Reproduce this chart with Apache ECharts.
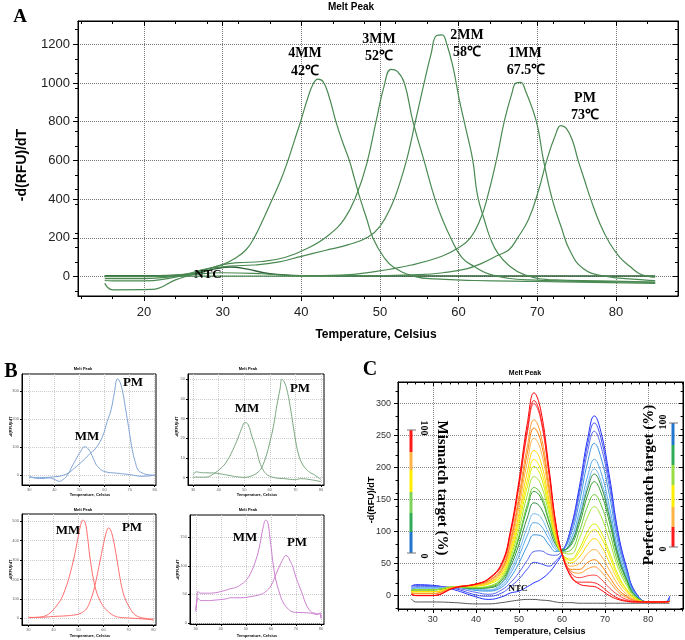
<!DOCTYPE html>
<html><head><meta charset="utf-8">
<script src="https://cdn.jsdelivr.net/npm/echarts@6/dist/echarts.min.js"></script>
<style>html,body{margin:0;padding:0;background:#fff}#c{width:685px;height:640px}</style>
</head><body><div id="c"></div>
<script>
// ---------------- Panel A data: [temperature, -d(RFU)/dT] ----------------
const a4MM = [[15,-35],[16,-68],[21,-66],[24,-17],[26,10],[28,40],[30,62],[31.8,100],[33,140],[34,200],[35.2,300],[36.3,400],[37.4,500],[38.3,600],[39.1,700],[39.9,800],[40.8,920],[41.5,995],[42.1,1020],[42.8,1005],[43.6,920],[44.4,800],[45.2,700],[46.1,600],[46.8,500],[47.5,400],[48.3,300],[49.1,200],[50.5,100],[51.7,50],[54.5,0],[57,-12],[62,-20],[70,-25],[85,-35]];
const a3MM = [[15,-20],[16,-22],[20,-22],[23,-10],[26,15],[28,38],[30,62],[32,72],[35,78],[38,100],[41,150],[43.5,215],[45.5,300],[47,420],[48.3,580],[49.5,800],[50.5,980],[51.4,1070],[52.2,1060],[53.1,1000],[54.2,800],[55.6,600],[57,400],[58,290],[59,200],[60.4,100],[62,52],[64.2,9],[69,-17],[77,-25],[85,-30]];
const a2MM = [[15,0],[20,0],[25,12],[28,40],[31,55],[34,60],[37,75],[40,105],[43,135],[46,165],[48.5,205],[50,260],[51.5,370],[52.5,480],[53.5,620],[54.5,800],[55.5,980],[56.5,1150],[57.2,1245],[57.9,1248],[58.5,1200],[59.3,1080],[60.1,912],[61,750],[61.8,602],[62.4,420],[63.3,290],[64.1,191],[65,120],[66.3,61],[68.4,9],[72.3,-17],[78,-22],[85,-28]];
const a1MM = [[15,-10],[20,-10],[25,5],[30,20],[35,15],[40,5],[45,8],[49.3,26],[54,60],[57.8,104],[60,150],[61.5,200],[62.8,300],[63.6,400],[64.8,600],[65.8,800],[66.8,950],[67.3,1000],[67.9,1003],[68.5,960],[69.9,800],[70.8,600],[71.9,400],[73.1,250],[74.1,139],[75.8,43],[78.4,4],[83.5,-17],[85,-20]];
const aPM = [[15,3],[20,3],[25,3],[30,3],[40,3],[50,5],[55,10],[58,20],[61,40],[63,70],[65,110],[66.4,139],[67.5,200],[68.9,296],[70.2,450],[71.2,600],[72.3,730],[73,780],[73.7,765],[74.5,700],[75.2,600],[76,500],[76.8,400],[78,270],[79.2,174],[80.5,100],[81.8,52],[83,15],[84.3,0],[85,-3]];
const aNTC = [[15,5],[22,5],[26,12],[29,40],[31,50],[33,40],[36,15],[40,5],[50,3],[85,3]];
const aXTicks = [20,30,40,50,60,70,80];
const aYTicks = [0,200,400,600,800,1000,1200];

// ---------------- Panel B data ----------------
const b1MM = [[30,-3],[32,-10],[35,-12],[38,-10],[40,-15],[42,-22],[43.5,-15],[45,-2],[47,30],[48.5,55],[50.5,85],[52,101],[53,98],[54.5,79],[56,50],[57.2,31],[60,13],[65,7],[70,2],[75,-4],[80,0]];
const b1PM = [[30,-8],[35,-8],[40,-6],[45,5],[48,25],[51.8,55],[54,75],[56.5,96],[59.2,138],[61,190],[62.6,233],[63.9,293],[65.2,343],[66.2,330],[67.3,293],[68.3,240],[69.3,186],[70.3,130],[71.3,79],[72.3,45],[73.3,19],[75,8],[77,2],[80,0]];
const b2MM = [[30,0.3],[35,0.3],[38,2],[41,5],[43,8],[45.5,14],[47.5,20],[49,25],[50.3,28],[51.5,27],[53,21],[54.8,14],[56,8],[57.4,4],[59,1.5],[62,0],[66,-0.5],[70,-1],[72,-0.5],[76,-1],[80,-2]];
const b2PM = [[30,1.3],[31.3,3],[33,2.6],[35,2.5],[38,2.4],[40.4,2],[44,1.2],[47,0.5],[50,0.2],[53.5,1.3],[55.5,3],[56.8,5],[58.8,12],[60,18],[61.4,26],[62.8,37],[64,45],[64.7,50],[65.5,49],[66.7,44.6],[68,36],[69.2,26],[70.2,18],[71.2,12],[72.5,7.5],[74.5,4],[76,2.5],[78,1],[80,-1]];
const b3MM = [[30,3],[33,5],[36,10],[38,22],[40,45],[41.5,70],[43.1,100],[44.7,150],[46,200],[48,300],[49.6,400],[50.7,470],[51.8,505],[52.7,490],[53.6,420],[54.4,330],[55.2,260],[56,200],[57.1,140],[58.3,100],[59.5,70],[60.7,50],[62.5,28],[64.5,12],[66.7,5],[70,2],[75,-2],[80,-8]];
const b3PM = [[30,5],[33,5],[36,6],[40,10],[45,13],[48,17],[50,22],[52,35],[53.5,55],[55,100],[56.2,150],[57.1,200],[58.7,300],[60.3,400],[61.2,445],[62,464],[62.8,455],[64,400],[65.4,300],[66.7,200],[67.7,140],[68.7,100],[70.7,50],[72.5,20],[74.7,5],[77,0],[80,-5]];
const b4MM = [[30,20],[30.5,45],[30.9,55],[32,52],[35,52],[38,53],[41,56],[44,60],[46,62],[48,67],[50,74],[52,88],[54,110],[55.5,135],[56.8,165],[58,180],[58.8,175],[59.6,150],[60.3,125],[61,100],[62,75],[63.6,50],[65,35],[67,24],[69,19],[72,18],[76,17],[78,15],[79.5,16],[80,8]];
const b4PM = [[30,22],[30.5,38],[30.9,43],[32,39],[35,39],[38,40],[42,42],[44,44],[48,44],[52,46],[56,50],[58,55],[60,65],[62,85],[63.5,100],[65,113],[65.9,118],[66.8,116],[67.7,108],[68.6,100],[70,80],[71.3,65],[72.6,50],[74,33],[75.9,20],[77.5,17],[79,15],[79.7,18],[80,8]];
const bXTicks = [30,40,50,60,70,80];
const b1YTicks = [0,100,200,300];
const b2YTicks = [0,10,20,30,40,50];
const b3YTicks = [0,100,200,300,400,500];
const b4YTicks = [0,50,100,150];

// ---------------- Panel C data ----------------
const cTemps = [25,26,30,35,40,43,46,48,50,52,53.5,55,57,58.5,60,62,64,66,67.5,69,71,73,75,77,80,84,85];
const c01 = [2,0,0,12,18,27,51,101,180,272,317,292,198,116,66,30,18,15,14,9,0,-6,-9,-10,-10,-10,-9];
const c02 = [2,0,0,12,18,26,49,97,173,262,305,281,191,113,65,32,21,21,20,15,4,-4,-8,-10,-10,-10,-9];
const c03 = [2,0,0,12,18,26,48,96,171,257,300,277,189,113,67,36,28,31,32,26,12,1,-6,-9,-10,-10,-9];
const c04 = [4,3,3,13,18,24,44,87,156,236,275,254,174,106,65,39,35,42,45,38,22,6,-3,-8,-10,-10,-9];
const c05 = [4,3,3,13,17,23,41,83,149,225,262,243,167,103,65,41,41,52,56,48,29,10,-1,-8,-10,-10,-9];
const c06 = [4,3,3,13,17,21,39,78,139,211,246,229,159,99,65,46,50,66,72,63,40,17,2,-7,-10,-10,-9];
const c07 = [6,6,6,13,16,20,36,72,128,195,227,211,148,95,65,51,60,80,89,79,52,24,6,-6,-10,-10,-9];
const c08 = [6,6,6,13,15,19,33,67,120,182,213,198,141,92,65,55,68,93,103,92,62,29,9,-5,-10,-10,-9];
const c09 = [6,6,6,13,15,18,31,63,113,172,202,188,134,89,65,57,73,101,112,100,68,33,10,-4,-10,-10,-9];
const c10 = [8,9,9,14,13,15,28,58,104,159,186,175,127,88,68,65,89,124,139,125,87,44,16,-3,-10,-10,-9];
const c11 = [8,9,9,13,12,14,26,53,94,144,169,160,118,85,68,71,100,141,158,143,101,51,20,-2,-10,-10,-9];
const c12 = [8,9,9,13,12,13,24,50,90,138,163,154,115,85,71,78,111,158,178,162,115,59,24,0,-10,-10,-9];
const c13 = [8,9,9,13,11,12,21,45,80,123,145,138,106,80,71,81,118,168,190,173,123,64,26,0,-10,-10,-9];
const c14 = [10,12,12,13,10,9,19,39,70,108,128,123,96,76,69,82,122,175,198,180,129,67,28,1,-10,-10,-8];
const c15 = [10,12,12,13,9,8,16,34,62,95,114,110,88,72,69,87,131,188,213,194,139,73,31,2,-10,-10,-7];
const c16 = [10,12,12,13,8,7,13,28,51,79,95,94,79,69,71,94,145,210,238,217,157,83,36,3,-10,-10,-6];
const c17 = [12,14,14,12,5,2,9,20,36,56,69,70,64,63,70,99,156,227,257,235,170,91,39,4,-10,-10,-5];
const c18 = [14,16,15,11,1,-1,4,14,26,42,52,50,46,54,66,103,163,238,270,247,179,96,42,5,-10,-10,-3];
const c19 = [15,17,16,9,-2,-6,-2,4,7,14,20,25,36,49,65,104,169,247,281,257,187,100,44,6,-10,-10,-1];
const cNTC = [-5,-10,-10,-11,-13,-13,-11,-9,-7,-6,-6,-7,-8,-10,-11,-11,-12,-12,-12,-12,-12,-12,-12,-12,-12,-12,-12];
const cCurves = [c19,c18,c17,c16,c15,c14,c13,c12,c11,c10,c09,c08,c07,c06,c05,c04,c03,c02,c01];
const cColors = ['#2030ff','#3f4ff5','#5a6af0','#3d95e0','#55a8ee','#70b8f0','#2e8b3e','#33a033','#66cc33','#a6e22e','#d8f000','#ffee00','#ffd700','#ffb347','#ff8000','#ff9933','#ff4040','#ff2020','#ff0000'];
const cXTicks = [30,40,50,60,70,80];
const cYTicks = [0,50,100,150,200,250,300];

// ---------------- helpers (style only) ----------------
const SANS = '"Liberation Sans", Arial, sans-serif';
const SERIF = '"Liberation Serif", "Times New Roman", serif';
const plain = v => String(v);

function xAx(grid, min, max, ticks, s) {
  return {
    type: 'value', gridIndex: grid, min: min, max: max, position: 'bottom',
    axisLine: {show: true, onZero: false, lineStyle: {color: '#000', width: 1}},
    axisTick: {show: true, customValues: ticks, length: s.tick, inside: false, lineStyle: {color: '#000'}},
    minorTick: {show: s.minor, splitNumber: s.xMinor || 5, length: s.tick * 0.6, lineStyle: {color: '#000'}},
    axisLabel: {customValues: ticks, formatter: plain, fontSize: s.font, color: s.color, margin: s.xMargin, fontFamily: SANS},
    splitLine: {show: true, lineStyle: {color: s.grid, type: 'dotted', width: 1}}
  };
}
function yAx(grid, min, max, ticks, s) {
  return {
    type: 'value', gridIndex: grid, min: min, max: max, position: 'left',
    axisLine: {show: true, onZero: false, lineStyle: {color: '#000', width: 1}},
    axisTick: {show: true, customValues: ticks, length: s.tick, inside: false, lineStyle: {color: '#000'}},
    minorTick: {show: s.minor, splitNumber: s.yMinor || 4, length: s.tick * 0.6, lineStyle: {color: '#000'}},
    axisLabel: {customValues: ticks, formatter: plain, fontSize: s.font, color: s.color, margin: s.yMargin, fontFamily: SANS},
    splitLine: {show: true, lineStyle: {color: s.grid, type: 'dotted', width: 1}}
  };
}
// frame ticks on the top / right borders (no labels, no grid lines)
function frameAx(grid, min, max, ticks, pos, s, minorSplit) {
  return {
    type: 'value', gridIndex: grid, min: min, max: max, position: pos,
    axisLine: {show: true, onZero: false, lineStyle: {color: '#000', width: 1}},
    axisTick: {show: true, customValues: ticks, length: s.tick, inside: true, lineStyle: {color: '#000'}},
    minorTick: {show: true, splitNumber: minorSplit, length: s.tick * 0.6, lineStyle: {color: '#000'}},
    axisLabel: {show: false}, splitLine: {show: false}
  };
}
const sA = {tick: 5, minor: true, xMinor: 5, yMinor: 4, font: 13, color: '#222', xMargin: 10, yMargin: 8, grid: '#777'};
const sB = {tick: 2, minor: false, font: 4, color: '#666', xMargin: 3, yMargin: 3, grid: '#ccc'};
const sC = {tick: 4, minor: true, xMinor: 5, yMinor: 5, font: 9, color: '#333', xMargin: 6, yMargin: 7, grid: '#888'};

function line(xi, data, color, width, z) {
  return {type: 'line', xAxisIndex: xi, yAxisIndex: xi, data: data, showSymbol: false, smooth: 0.45,
    silent: true, z: z || 2,
    lineStyle: {color: color, width: width}};
}

function txt(x, y, text, font, fill, rot) {
  return {type: 'text', x: x, y: y, rotation: rot || 0, silent: true, z: 100,
    style: {text: text, font: font, fill: fill || '#000', textAlign: 'center', textVerticalAlign: 'middle'}};
}
function bar(x, y, h, color) {
  return {type: 'rect', shape: {x: x, y: y, width: 3, height: h}, style: {fill: color}, silent: true, z: 100};
}
function cap(x, y) {
  return {type: 'line', shape: {x1: x - 3, y1: y, x2: x + 6, y2: y}, style: {stroke: '#777', lineWidth: 1}, silent: true, z: 100};
}

const grids = [
  {left: 78, top: 21, width: 600, height: 275},
  {left: 22, top: 374, width: 134, height: 111},
  {left: 188, top: 374, width: 136, height: 111},
  {left: 22, top: 514, width: 134, height: 111},
  {left: 190, top: 515, width: 134, height: 109},
  {left: 398, top: 382, width: 285, height: 227}
].map(g => Object.assign({show: true, borderColor: '#000', borderWidth: 1, backgroundColor: 'transparent', containLabel: false, outerBoundsMode: 'none'}, g));

const xAxes = [
  xAx(0, 11.6, 87.9, aXTicks, sA),
  xAx(1, 27.1, 80.5, bXTicks, sB),
  xAx(2, 28, 81.2, bXTicks, sB),
  xAx(3, 27.4, 81, bXTicks, sB),
  xAx(4, 27.7, 81.2, bXTicks, sB),
  xAx(5, 21.9, 88.1, cXTicks, sC),
  frameAx(0, 11.6, 87.9, aXTicks, 'top', sA, 5),
  frameAx(5, 21.9, 88.1, cXTicks, 'top', sC, 5)
];
const yAxes = [
  yAx(0, -100, 1320, aYTicks, sA),
  yAx(1, -35, 360, b1YTicks, sB),
  yAx(2, -3.7, 52.7, b2YTicks, sB),
  yAx(3, -34, 536, b3YTicks, sB),
  yAx(4, -2, 189, b4YTicks, sB),
  yAx(5, -21, 334, cYTicks, sC),
  frameAx(0, -100, 1320, aYTicks, 'right', sA, 4),
  frameAx(5, -21, 334, cYTicks, 'right', sC, 5)
];

const gA = '#4a8a52';
const series = [
  line(0, aNTC, '#2e5e36', 1.4),
  line(0, a4MM, gA, 1.2), line(0, a3MM, gA, 1.2), line(0, a2MM, gA, 1.2),
  line(0, a1MM, gA, 1.2), line(0, aPM, gA, 1.2),
  line(1, b1MM, '#7fa3d6', 1), line(1, b1PM, '#7fa3d6', 1),
  line(2, b2MM, '#7aa67f', 1), line(2, b2PM, '#7aa67f', 1),
  line(3, b3MM, '#ff6b6b', 1), line(3, b3PM, '#ff6b6b', 1),
  line(4, b4MM, '#cc7fd0', 1), line(4, b4PM, '#cc7fd0', 1),
  line(5, cTemps.map((t, i) => [t, cNTC[i]]), '#555', 1)
];
cCurves.forEach((arr, k) => {
  series.push(line(5, cTemps.map((t, i) => [t, arr[i]]), cColors[k], 1, 3 + k));
});

const tiny = 'bold 4px ' + SANS;
const graphics = [
  // Panel A
  txt(20, 17, 'A', 'bold 19px ' + SERIF),
  txt(351, 7, 'Melt Peak', 'bold 10px ' + SANS),
  txt(22, 165, '-d(RFU)/dT', 'bold 14px ' + SANS, '#000', Math.PI / 2),
  txt(376, 335, 'Temperature, Celsius', 'bold 12px ' + SANS),
  txt(305, 53, '4MM', 'bold 14px ' + SERIF), txt(305, 71, '42℃', 'bold 14px ' + SERIF),
  txt(379, 39, '3MM', 'bold 14px ' + SERIF), txt(379, 56, '52℃', 'bold 14px ' + SERIF),
  txt(467, 35, '2MM', 'bold 14px ' + SERIF), txt(467, 52, '58℃', 'bold 14px ' + SERIF),
  txt(525, 53, '1MM', 'bold 14px ' + SERIF), txt(526, 70, '67.5℃', 'bold 14px ' + SERIF),
  txt(585, 98, 'PM', 'bold 14px ' + SERIF), txt(585, 115, '73℃', 'bold 14px ' + SERIF),
  txt(208, 275, 'NTC', 'bold 13px ' + SERIF),
  // Panel B
  txt(11, 372, 'B', 'bold 20px ' + SERIF),
  txt(83, 369, 'Melt Peak', tiny), txt(248, 369, 'Melt Peak', tiny),
  txt(83, 510, 'Melt Peak', tiny), txt(248, 510, 'Melt Peak', tiny),
  txt(90, 495, 'Temperature, Celsius', tiny), txt(257, 495, 'Temperature, Celsius', tiny),
  txt(90, 636, 'Temperature, Celsius', tiny), txt(257, 636, 'Temperature, Celsius', tiny),
  txt(11, 427, '-d(RFU)/dT', tiny, '#000', Math.PI / 2), txt(177, 427, '-d(RFU)/dT', tiny, '#000', Math.PI / 2),
  txt(11, 570, '-d(RFU)/dT', tiny, '#000', Math.PI / 2), txt(178, 570, '-d(RFU)/dT', tiny, '#000', Math.PI / 2),
  txt(133, 383, 'PM', 'bold 13px ' + SERIF), txt(87, 437, 'MM', 'bold 13px ' + SERIF),
  txt(300, 389, 'PM', 'bold 13px ' + SERIF), txt(247, 409, 'MM', 'bold 13px ' + SERIF),
  txt(68, 531, 'MM', 'bold 13px ' + SERIF), txt(132, 528, 'PM', 'bold 13px ' + SERIF),
  txt(245, 538, 'MM', 'bold 13px ' + SERIF), txt(297, 543, 'PM', 'bold 13px ' + SERIF),
  // Panel C
  txt(370, 370, 'C', 'bold 20px ' + SERIF),
  txt(525, 373, 'Melt Peak', 'bold 7px ' + SANS),
  txt(372, 500, '-d(RFU)/dT', 'bold 9px ' + SANS, '#000', Math.PI / 2),
  txt(540, 632, 'Temperature, Celsius', 'bold 9px ' + SANS),
  txt(518, 589, 'NTC', 'bold 9px ' + SERIF),
  // left colour bar (mismatch)
  bar(409.5, 430, 22, '#ff1a1a'), bar(409.5, 452, 18, '#ffb347'), bar(409.5, 470, 22, '#ffee00'),
  bar(409.5, 492, 21, '#7fd35a'), bar(409.5, 513, 19, '#33aa55'), bar(409.5, 532, 21, '#2277cc'),
  cap(410, 430), cap(410, 553),
  txt(424, 428, '100', 'bold 10px ' + SERIF, '#000', -Math.PI / 2),
  txt(424, 556, '0', 'bold 10px ' + SERIF, '#000', -Math.PI / 2),
  txt(442, 488, 'Mismatch target (%)', 'bold 15px ' + SERIF, '#000', -Math.PI / 2),
  // right colour bar (perfect match)
  bar(671.5, 423, 22, '#2277cc'), bar(671.5, 445, 20, '#33aa55'), bar(671.5, 465, 20, '#99dd44'),
  bar(671.5, 485, 22, '#ffee00'), bar(671.5, 507, 20, '#ffb347'), bar(671.5, 527, 20, '#ff1a1a'),
  cap(672, 423), cap(672, 547),
  txt(663, 422, '100', 'bold 10px ' + SERIF, '#000', Math.PI / 2),
  txt(663, 549, '0', 'bold 10px ' + SERIF, '#000', Math.PI / 2),
  txt(649, 485, 'Perfect match target (%)', 'bold 15px ' + SERIF, '#000', Math.PI / 2)
];

const chart = echarts.init(document.getElementById('c'), null, {renderer: 'canvas'});
chart.setOption({
  animation: false,
  backgroundColor: '#fff',
  grid: grids,
  xAxis: xAxes,
  yAxis: yAxes,
  series: series,
  graphic: graphics
});
</script>
</body></html>
